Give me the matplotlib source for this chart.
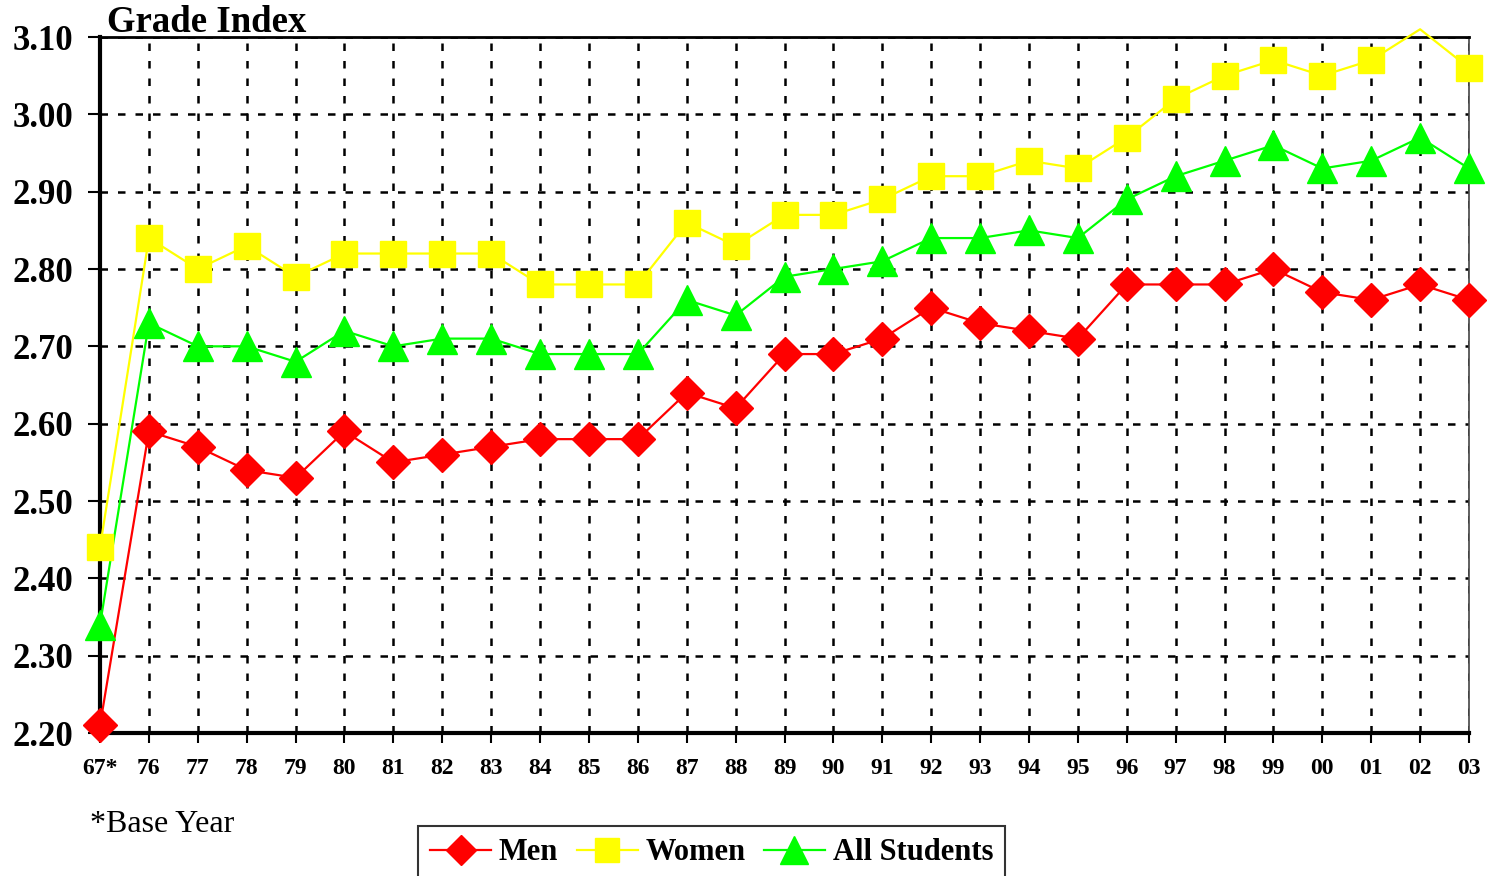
import numpy as np
import matplotlib
matplotlib.use("Agg")
import matplotlib.pyplot as plt

# ==============================
# Data
years = ["67*", "76", "77", "78", "79", "80", "81", "82", "83", "84", "85", "86",
         "87", "88", "89", "90", "91", "92", "93", "94", "95", "96", "97", "98",
         "99", "00", "01", "02", "03"]

men = [2.21, 2.59, 2.57, 2.54, 2.53, 2.59, 2.55, 2.56, 2.57, 2.58, 2.58, 2.58,
       2.64, 2.62, 2.69, 2.69, 2.71, 2.75, 2.73, 2.72, 2.71, 2.78, 2.78, 2.78,
       2.80, 2.77, 2.76, 2.78, 2.76]

women = [2.44, 2.84, 2.80, 2.83, 2.79, 2.82, 2.82, 2.82, 2.82, 2.78, 2.78, 2.78,
         2.86, 2.83, 2.87, 2.87, 2.89, 2.92, 2.92, 2.94, 2.93, 2.97, 3.02, 3.05,
         3.07, 3.05, 3.07, 3.11, 3.06]

all_students = [2.34, 2.73, 2.70, 2.70, 2.68, 2.72, 2.70, 2.71, 2.71, 2.69, 2.69, 2.69,
                2.76, 2.74, 2.79, 2.80, 2.81, 2.84, 2.84, 2.85, 2.84, 2.89, 2.92, 2.94,
                2.96, 2.93, 2.94, 2.97, 2.93]

y_ticks = [2.20, 2.30, 2.40, 2.50, 2.60, 2.70, 2.80, 2.90, 3.00, 3.10]

# ==============================
serif = ["Liberation Serif", "DejaVu Serif"]
plt.rcParams["font.family"] = serif

fig = plt.figure(figsize=(14.9, 8.76), dpi=100)
ax = fig.add_axes([100 / 1490, 1 - 733 / 876, 1369 / 1490, 696 / 876])

x = np.arange(len(years))
ymin, ymax = y_ticks[0], y_ticks[-1]

series = [
    ("Men", men, "#ff0000", "D", 17),
    ("Women", women, "#ffff00", "s", 19),
    ("All Students", all_students, "#00ff00", "^", 22),
]

handles = []
for label, vals, col, mk, ms in series:
    vals = np.array(vals)
    # line is drawn even outside the plot area, markers only inside (like Excel)
    ax.plot(x, vals, color=col, lw=1.6, clip_on=False, zorder=3)
    shown = np.where(vals <= ymax + 1e-9, vals, np.nan)
    ax.plot(x, shown, ls="none", marker=mk, ms=ms, color=col, mec=col,
            clip_on=False, zorder=4)
    h, = ax.plot([], [], color=col, lw=1.6, marker=mk, ms=ms * 0.9, mec=col)
    handles.append((h, label))

ax.set_xlim(0, len(years) - 1)
ax.set_ylim(ymin, ymax)
ax.set_xticks(x)
ax.set_xticklabels(years, fontsize=17, fontweight="bold")
ax.set_yticks(y_ticks)
ax.set_yticklabels([f"{v:.2f}" for v in y_ticks], fontsize=25, fontweight="bold")

ax.tick_params(axis="x", direction="out", length=7, width=1.5, pad=11)
ax.tick_params(axis="y", direction="out", length=9, width=1.5, pad=10)

ax.grid(True, color="black", lw=1.8, ls=(0, (3, 4)), zorder=1)
ax.set_axisbelow(True)

ax.spines["left"].set_linewidth(3)
ax.spines["bottom"].set_linewidth(3)
ax.spines["top"].set_linewidth(2)
ax.spines["right"].set_linewidth(1.2)
ax.spines["right"].set_color("#444444")

fig.text(107 / 1490, 1 - 22 / 876, "Grade Index", fontsize=26.5, fontweight="bold",
         va="center", ha="left")
fig.text(90 / 1490, 1 - 825 / 876, "*Base Year", fontsize=23, va="center", ha="left")

leg = fig.legend([h for h, _ in handles], [l for _, l in handles],
                 loc="upper left", bbox_to_anchor=(418 / 1490, 1 - 826 / 876),
                 ncol=3, frameon=True, fancybox=False, edgecolor="black",
                 prop={"family": serif, "weight": "bold", "size": 22},
                 handlelength=2.0, handletextpad=0.25, columnspacing=0.6,
                 borderpad=0.4, borderaxespad=0)
leg.get_frame().set_linewidth(1.5)

fig.savefig("out.png", dpi=100)
